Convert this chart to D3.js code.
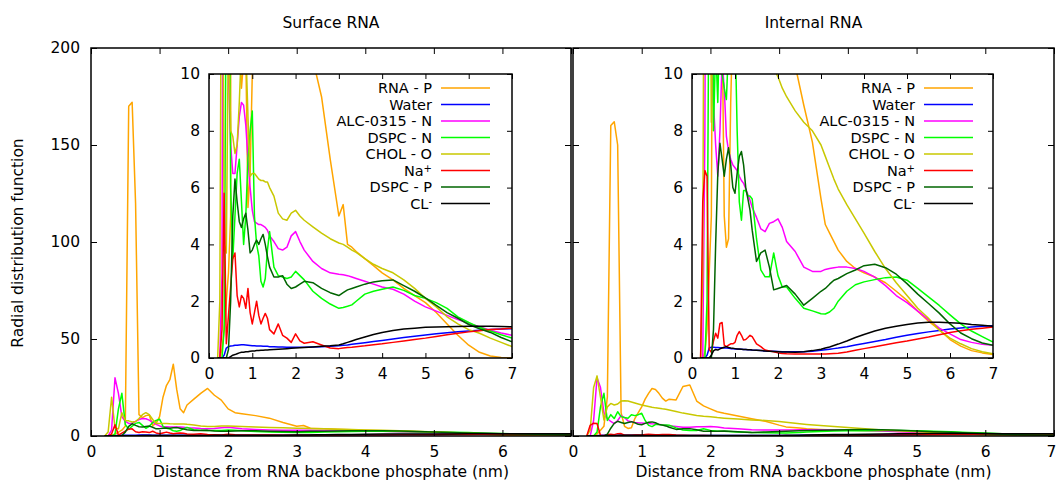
<!DOCTYPE html>
<html>
<head>
<meta charset="utf-8">
<script src="https://cdn.jsdelivr.net/npm/d3@7"></script>
<style>
  body { margin: 0; background: #fff; }
  text { font-family: "DejaVu Sans", sans-serif; font-size: 15.5px; fill: #000; }
  text.legend { font-size: 14.5px; }
</style>
</head>
<body>
<svg id="chart" width="1057" height="483"></svg>
<script>
// Distance grid (nm), shared by every curve
const distances = [0.2,0.25,0.3,0.35,0.4,0.45,0.5,0.55,0.6,0.65,0.7,0.75,0.8,0.85,0.9,0.95,1.0,1.05,1.1,1.15,1.2,1.25,1.3,1.35,1.4,
  1.5,1.6,1.7,1.8,1.9,2.0,2.1,2.2, 2.4,2.6,2.8,3.0, 3.1,3.2,3.3,3.4, 3.6,3.8,4.0,
  4.25,4.5,4.75,5.0,5.25,5.5,5.75,6.0,6.25,6.5,6.75,7.0];

const seriesNames = ['RNA - P', 'Water', 'ALC-0315 - N', 'DSPC - N', 'CHOL - O', 'Na', 'DSPC - P', 'CL'];
const seriesSup = ['', '', '', '', '', '+', '', '-'];

// Surface RNA
const surfRnaP = [0,0,0.3,1,2,3,5,170,172,120,11,9.5,10.5,10.8,5.3,6.5,10,20,26,29,37,24,14,12,16,
  19,22,24.5,21,18.5,14,12,11.5, 10.5,9.2,7.0,5.0, 5.4,4.0,3.9,3.75, 3.5,3.25,3.0,
  2.75,2.45,2.2,1.95,1.6,1.2,0.8,0.45,0.2,0.07,0.02,0];
const surfWater = [0,0,0,0.1,0.35,0.4,0.42,0.43,0.45,0.45,0.46,0.47,0.47,0.46,0.45,0.44,0.43,0.43,0.42,0.42,0.42,0.41,0.41,0.41,0.4,
  0.4,0.39,0.39,0.38,0.38,0.38,0.38,0.38, 0.39,0.4,0.41,0.43, 0.45,0.46,0.48,0.5, 0.54,0.58,0.62,
  0.67,0.72,0.77,0.81,0.85,0.89,0.92,0.95,0.98,1.0,1.02,1.03];
const surfAlc = [0,0,3,30,22,10,7.5,6.5,6.5,7.5,8.5,9.0,8.9,8.2,7.0,6.0,5.2,4.8,4.75,4.7,4.7,4.65,4.6,4.5,4.3,
  4.1,3.85,3.8,3.9,4.3,4.45,4.1,3.8, 3.4,3.15,3.0,2.95, 2.93,2.9,2.85,2.8, 2.7,2.6,2.5,
  2.42,2.25,2.0,1.8,1.65,1.5,1.35,1.22,1.1,0.98,0.88,0.8];
const surfDspcN = [0,0,0,1,14,22,6,3.5,5,6.5,7.0,5.5,4.0,5.0,7,8.0,8.7,5.0,4.0,3.6,2.7,2.5,2.8,3.8,4.45,
  3.2,2.9,2.85,2.8,2.85,3.05,2.9,2.75, 2.35,2.1,1.9,1.75, 1.78,1.82,1.87,2.0, 2.25,2.35,2.42,
  2.5,2.38,2.2,2.1,1.95,1.75,1.45,1.25,1.08,0.95,0.82,0.7];
const surfChol = [0,2,20,4,3.7,12,8,7.8,7.2,7.5,9,11,12,11,8.5,6.4,6.5,6.5,6.4,6.3,6.25,6.25,6.2,6.2,6.0,
  5.7,5.1,4.9,4.85,5.1,5.2,5.0,4.85, 4.62,4.4,4.2,4.05, 4.0,3.9,3.8,3.72, 3.5,3.3,3.15,
  3.0,2.75,2.45,2.1,1.8,1.45,1.2,1.0,0.87,0.7,0.55,0.4];
const surfNa = [0,0,1,5.8,0.5,1.5,2.5,3.5,3.7,2.2,1.8,2.2,2.1,1.75,2.45,1.6,1.2,1.6,2.0,1.5,1.2,1.4,1.57,1.4,1.0,
  0.85,1.2,0.8,0.7,0.55,0.85,0.6,0.52, 0.57,0.46,0.35,0.33, 0.35,0.37,0.38,0.4, 0.43,0.47,0.5,
  0.55,0.6,0.65,0.7,0.76,0.82,0.87,0.92,0.96,1.0,1.02,1.05];
const surfDspcP = [0,0,0,0,0,0.3,2,5,6.3,5.5,4.8,4.6,4.9,5.1,4.5,3.7,3.8,4.0,4.15,4.0,4.2,4.35,4.0,3.57,3.2,
  2.85,2.85,2.9,2.6,2.45,2.5,2.6,2.7, 2.65,2.45,2.3,2.2, 2.3,2.4,2.45,2.5, 2.6,2.68,2.72,
  2.75,2.55,2.35,2.12,1.85,1.6,1.4,1.18,1.03,0.9,0.72,0.57];
const surfCl = [0,0,0,0,0,0,0.05,0.1,0.12,0.15,0.18,0.2,0.2,0.22,0.22,0.24,0.25,0.25,0.26,0.26,0.27,0.27,0.28,0.28,0.29,
  0.3,0.31,0.32,0.33,0.34,0.35,0.36,0.37, 0.39,0.41,0.43,0.46, 0.5,0.55,0.6,0.65, 0.74,0.83,0.9,
  0.97,1.02,1.05,1.08,1.09,1.1,1.11,1.12,1.12,1.12,1.11,1.1];

// Internal RNA
const intRnaP = [0,0,0.2,1,3,5,20,160,162,150,12,5,3.9,4.2,9,12,15,19,22,24.5,24,22,19.5,18,19,
  18.6,25.5,26.3,18,15.5,14,12.5,11.7, 10.3,8.9,7.6,5.6, 4.7,4.4,4.1,3.8, 3.4,3.15,3.0,
  2.85,2.65,2.35,2.03,1.65,1.3,1.0,0.65,0.42,0.26,0.18,0.12];
const intWater = [0,0,0,0.1,0.35,0.38,0.38,0.37,0.37,0.36,0.36,0.35,0.35,0.34,0.33,0.33,0.32,0.32,0.31,0.31,0.3,0.3,0.29,0.29,0.28,
  0.27,0.26,0.25,0.24,0.24,0.23,0.22,0.22, 0.22,0.22,0.24,0.27, 0.29,0.31,0.33,0.35, 0.4,0.46,0.51,
  0.58,0.65,0.73,0.8,0.86,0.92,0.97,1.02,1.06,1.09,1.12,1.14];
const intAlc = [0,0,8,30,25,12,9,7.5,6.4,8,10.5,9.5,7.8,7.3,7.0,6.8,6.7,6.6,6.4,6.25,6.15,5.95,5.75,5.55,5.3,
  4.95,4.55,4.45,4.74,4.8,4.9,4.6,4.1, 3.75,3.2,3.05,3.05, 3.12,3.15,3.18,3.2, 3.2,3.15,3.05,
  2.85,2.55,2.2,1.95,1.65,1.35,1.05,0.85,0.65,0.55,0.48,0.45];
const intDspcN = [0,0,0,2,15,22,8,11,9,12.5,10,9.5,9.1,11,10.5,11,11.7,8,5.5,4.85,5.9,5.9,5.7,5.7,5.6,
  4.2,3.1,2.86,2.86,3.7,2.9,2.5,2.5, 2.1,1.75,1.66,1.56, 1.55,1.62,1.75,2.0, 2.35,2.58,2.68,
  2.76,2.83,2.85,2.74,2.45,2.15,1.85,1.52,1.2,0.95,0.75,0.56];
const intChol = [0,3,25,31,20,8.3,15,16.8,16,16.5,18,18.2,18,17.5,17,16.5,16,15.6,15.2,14.8,14.5,14.3,14,13.8,13.4,
  12.6,11.8,11.2,10.6,10.2,9.9,9.5,9.2, 8.7,8.3,8.0,7.5, 7.1,6.7,6.3,5.95, 5.4,4.9,4.4,
  3.75,3.15,2.65,2.2,1.75,1.4,0.98,0.7,0.5,0.33,0.22,0.15];
const intNa = [0,5.5,6.6,6.4,0.3,0.2,0.6,0.87,0.7,1.22,1.25,0.45,0.4,0.45,0.5,0.5,0.55,0.8,0.93,0.8,0.63,0.65,0.72,0.8,0.75,
  0.5,0.4,0.28,0.25,0.22,0.18,0.16,0.15, 0.14,0.14,0.14,0.14, 0.14,0.15,0.16,0.17, 0.21,0.27,0.33,
  0.4,0.47,0.54,0.6,0.67,0.74,0.82,0.9,0.96,1.01,1.05,1.09];
const intDspcP = [0,0,0,0,0,0,1.0,4,6.5,7.56,7.0,6.4,7.0,7.4,6.8,6.0,5.8,6.5,7.1,7.27,6.8,6.0,5.6,5.2,4.5,
  3.4,3.7,3.8,3.2,2.4,2.45,2.5,2.55, 2.25,1.86,2.1,2.35, 2.45,2.6,2.74,2.8, 2.97,3.1,3.25,
  3.3,3.18,2.95,2.62,2.25,1.92,1.58,1.2,0.88,0.68,0.53,0.45];
const intCl = [0,0,0,0,0,0.1,0.25,0.3,0.28,0.32,0.35,0.38,0.4,0.37,0.35,0.34,0.33,0.32,0.32,0.31,0.3,0.3,0.29,0.29,0.28,
  0.27,0.26,0.25,0.24,0.23,0.22,0.21,0.21, 0.2,0.22,0.26,0.31, 0.35,0.39,0.44,0.49, 0.6,0.72,0.83,
  0.95,1.05,1.12,1.18,1.23,1.26,1.26,1.24,1.22,1.18,1.15,1.12];

const mainTicksY = [0, 50, 100, 150, 200];
const insetTicksY = [0, 2, 4, 6, 8, 10];
const ticksX = [0, 1, 2, 3, 4, 5, 6, 7];

const colours = ['#ffa500', '#0000ff', '#ff00ff', '#00ff00', '#c8c800', '#ff0000', '#006400', '#000000'];

const svg = d3.select('#chart');
const defs = svg.append('defs');

const panels = [
  { title: 'Surface RNA', series: [surfRnaP, surfWater, surfAlc, surfDspcN, surfChol, surfNa, surfDspcP, surfCl],
    main: [91, 571], inset: [209, 512], yLabels: true, xLabels: [0, 1, 2, 3, 4, 5, 6] },
  { title: 'Internal RNA', series: [intRnaP, intWater, intAlc, intDspcN, intChol, intNa, intDspcP, intCl],
    main: [573, 1054], inset: [692, 993], yLabels: false, xLabels: ticksX }
];

// Frame + mirrored inward ticks for one plot box
const drawFrame = (g, x, y, yTicks, tickLen, pad, showY, xLabels) => {
  const [x0, x1] = x.range();
  const [y0, y1] = y.range();
  const strip = a => a.call(s => s.select('.domain').remove())
    .attr('font-size', null).attr('font-family', null);

  const bottom = g.append('g').attr('transform', `translate(0,${y0})`)
    .call(d3.axisBottom(x).tickValues(ticksX).tickSize(-tickLen).tickPadding(pad.x)
      .tickFormat(d => xLabels.includes(d) ? d : ''))
    .call(strip);
  // keep a label sitting on the page edge inside the page
  bottom.selectAll('.tick').filter(function () {
    return x1 + 6 > +svg.attr('width');
  }).filter(d => d === 7).select('text').attr('dx', -3);

  g.append('g').attr('transform', `translate(0,${y1})`)
    .call(d3.axisTop(x).tickValues(ticksX).tickSize(-tickLen).tickFormat(''))
    .call(strip);
  g.append('g').attr('transform', `translate(${x0},0)`)
    .call(d3.axisLeft(y).tickValues(yTicks).tickSize(-tickLen).tickPadding(pad.y)
      .tickFormat(d => showY ? d : ''))
    .call(strip);
  g.append('g').attr('transform', `translate(${x1},0)`)
    .call(d3.axisRight(y).tickValues(yTicks).tickSize(-tickLen).tickFormat(''))
    .call(strip);

  g.selectAll('.tick line').attr('stroke', '#000').attr('stroke-width', 1);
  g.append('rect')
    .attr('x', x0).attr('y', y1).attr('width', x1 - x0).attr('height', y0 - y1)
    .attr('fill', 'none').attr('stroke', '#000').attr('stroke-width', 1.5);
};

const drawCurves = (g, x, y, series, clipId) => {
  defs.append('clipPath').attr('id', clipId).append('rect')
    .attr('x', x.range()[0]).attr('y', y.range()[1])
    .attr('width', x.range()[1] - x.range()[0]).attr('height', y.range()[0] - y.range()[1]);
  const line = d3.line().x(d => x(d[0])).y(d => y(d[1]));
  g.append('g').attr('clip-path', `url(#${clipId})`)
    .selectAll('path').data(series).join('path')
      .attr('d', s => line(s.map((v, i) => [distances[i], v])))
      .attr('fill', 'none')
      .attr('stroke', (s, i) => colours[i])
      .attr('stroke-width', 1.5)
      .attr('stroke-linejoin', 'round');
};

panels.forEach((p, pi) => {
  const g = svg.append('g');

  // Main plot, 0-200
  const x = d3.scaleLinear().domain([0, 7]).range(p.main);
  const y = d3.scaleLinear().domain([0, 200]).range([436, 48]);
  drawCurves(g, x, y, p.series, `clip-main-${pi}`);
  drawFrame(g, x, y, mainTicksY, 6, { x: 10, y: 11 }, p.yLabels, p.xLabels);

  g.append('text').attr('x', (p.main[0] + p.main[1]) / 2).attr('y', 28)
    .attr('text-anchor', 'middle').text(p.title);
  g.append('text').attr('x', (p.main[0] + p.main[1]) / 2).attr('y', 477)
    .attr('text-anchor', 'middle').text('Distance from RNA backbone phosphate (nm)');

  // Inset, zoomed to 0-10
  const xi = d3.scaleLinear().domain([0, 7]).range(p.inset);
  const yi = d3.scaleLinear().domain([0, 10]).range([358, 74]);
  g.append('rect').attr('x', p.inset[0]).attr('y', 74)
    .attr('width', p.inset[1] - p.inset[0]).attr('height', 284).attr('fill', '#fff');
  drawCurves(g, xi, yi, p.series, `clip-inset-${pi}`);
  drawFrame(g, xi, yi, insetTicksY, 5, { x: 10, y: 9 }, true, ticksX);

  // Legend inside the inset
  const legend = g.append('g');
  seriesNames.forEach((name, i) => {
    const ly = 88 + i * 16.5;
    const t = legend.append('text').attr('class', 'legend')
      .attr('x', p.inset[0] + 223).attr('y', ly)
      .attr('dy', '0.35em').attr('text-anchor', 'end').text(name);
    if (seriesSup[i]) {
      t.append('tspan').attr('dy', '-0.4em').style('font-size', '10px').text(seriesSup[i]);
    }
    legend.append('line')
      .attr('x1', p.inset[0] + 232).attr('x2', p.inset[0] + 281)
      .attr('y1', ly).attr('y2', ly)
      .attr('stroke', colours[i]).attr('stroke-width', 1.5);
  });
});

svg.append('text')
  .attr('transform', 'translate(23,243) rotate(-90)')
  .attr('text-anchor', 'middle')
  .text('Radial distribution function');
</script>
</body>
</html>
